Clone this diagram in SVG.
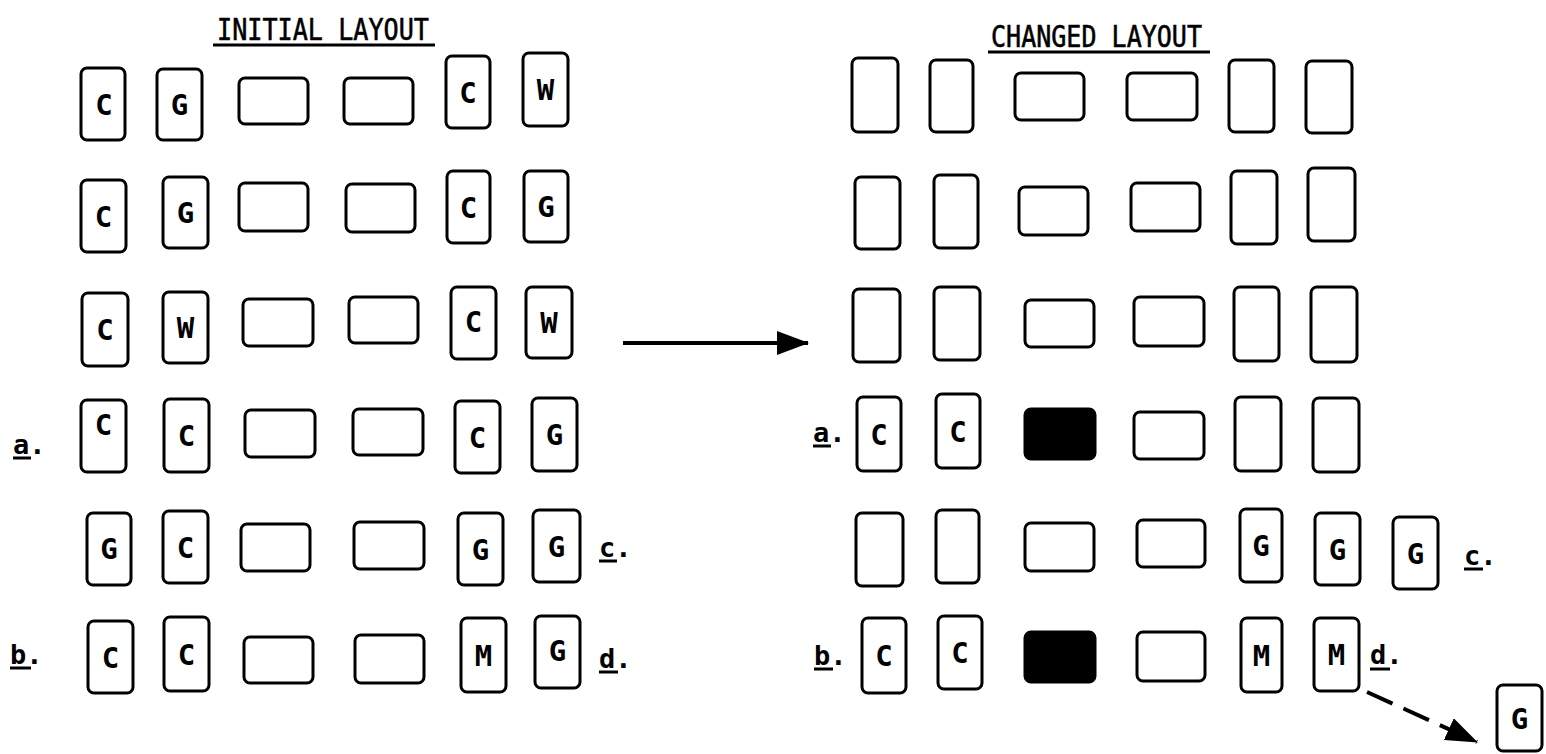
<svg xmlns="http://www.w3.org/2000/svg" width="1546" height="754" viewBox="0 0 1546 754">
<style>
.box{fill:#fff;stroke:#000;stroke-width:3}
.filled{fill:#000;stroke:#000;stroke-width:3}
.lt{font-family:"DejaVu Sans Mono","Liberation Mono",monospace;font-size:29px;font-weight:bold;text-anchor:middle;fill:#000}
.lbl{font-family:"DejaVu Sans Mono","Liberation Mono",monospace;font-size:27px;font-weight:bold;fill:#000}
.title{font-family:"DejaVu Sans Mono","Liberation Mono",monospace;font-size:31px;fill:#000;stroke:#000;stroke-width:0.6}
.ul{stroke:#000;stroke-width:3}
.conn{stroke:#000;stroke-width:4;fill:none}
</style>
<defs>
<marker id="ah" markerUnits="userSpaceOnUse" markerWidth="32" markerHeight="24" refX="31" refY="12" orient="auto">
<path d="M0,0 L32,12 L0,24 z" fill="#000"/>
</marker>
</defs>
<rect width="1546" height="754" fill="#fff"/>

<g id="titles">
<text class="title" x="217" y="40" textLength="212" lengthAdjust="spacingAndGlyphs">INITIAL LAYOUT</text>
<line class="ul" x1="213" y1="45" x2="435" y2="45"/>
<text class="title" x="991" y="47" textLength="211" lengthAdjust="spacingAndGlyphs">CHANGED LAYOUT</text>
<line class="ul" x1="988" y1="52" x2="1210" y2="52"/>
</g>

<g id="labels">
<text class="lbl" x="13" y="454">a.</text><line class="ul" x1="13" y1="458" x2="31" y2="458"/>
<text class="lbl" x="10" y="664">b.</text><line class="ul" x1="10" y1="668" x2="31" y2="668"/>
<text class="lbl" x="599" y="557">c.</text><line class="ul" x1="599" y1="561" x2="617" y2="561"/>
<text class="lbl" x="599" y="668">d.</text><line class="ul" x1="599" y1="672" x2="618" y2="672"/>
<text class="lbl" x="813" y="442">a.</text><line class="ul" x1="813" y1="446" x2="831" y2="446"/>
<text class="lbl" x="814" y="665">b.</text><line class="ul" x1="814" y1="669" x2="833" y2="669"/>
<text class="lbl" x="1464" y="565">c.</text><line class="ul" x1="1464" y1="569" x2="1483" y2="569"/>
<text class="lbl" x="1370" y="664">d.</text><line class="ul" x1="1370" y1="669" x2="1390" y2="669"/>
</g>

<!-- INITIAL LAYOUT -->
<g id="L1-1"><rect class="box" x="81" y="68" width="44" height="72" rx="6"/><text class="lt" x="104" y="114.5">C</text></g>
<g id="L1-2"><rect class="box" x="157" y="69" width="45" height="71" rx="6"/><text class="lt" x="179.5" y="115">G</text></g>
<g id="L1-3"><rect class="box" x="239" y="78" width="69" height="46" rx="6"/></g>
<g id="L1-4"><rect class="box" x="344" y="78" width="69" height="46" rx="6"/></g>
<g id="L1-5"><rect class="box" x="446" y="56" width="44" height="72" rx="6"/><text class="lt" x="468" y="102.5">C</text></g>
<g id="L1-6"><rect class="box" x="523" y="53" width="45" height="73" rx="6"/><text class="lt" x="545.5" y="100">W</text></g>

<g id="L2-1"><rect class="box" x="81" y="180" width="45" height="72" rx="6"/><text class="lt" x="103.5" y="226.5">C</text></g>
<g id="L2-2"><rect class="box" x="163" y="177" width="45" height="71" rx="6"/><text class="lt" x="185.5" y="223">G</text></g>
<g id="L2-3"><rect class="box" x="239" y="183" width="69" height="48" rx="6"/></g>
<g id="L2-4"><rect class="box" x="346" y="184" width="69" height="48" rx="6"/></g>
<g id="L2-5"><rect class="box" x="447" y="171" width="43" height="72" rx="6"/><text class="lt" x="468.5" y="217.5">C</text></g>
<g id="L2-6"><rect class="box" x="524" y="171" width="44" height="71" rx="6"/><text class="lt" x="546" y="217">G</text></g>

<g id="L3-1"><rect class="box" x="82" y="293" width="46" height="73" rx="6"/><text class="lt" x="105" y="340">C</text></g>
<g id="L3-2"><rect class="box" x="163" y="292" width="45" height="71" rx="6"/><text class="lt" x="185.5" y="338">W</text></g>
<g id="L3-3"><rect class="box" x="243" y="299" width="70" height="47" rx="6"/></g>
<g id="L3-4"><rect class="box" x="349" y="297" width="69" height="46" rx="6"/></g>
<g id="L3-5"><rect class="box" x="451" y="287" width="45" height="72" rx="6"/><text class="lt" x="473.5" y="331.5">C</text></g>
<g id="L3-6"><rect class="box" x="526" y="287" width="46" height="71" rx="6"/><text class="lt" x="549" y="333">W</text></g>

<g id="L4-1"><rect class="box" x="81" y="400" width="45" height="72" rx="6"/><text class="lt" x="103.5" y="434.5">C</text></g>
<g id="L4-2"><rect class="box" x="164" y="399" width="45" height="73" rx="6"/><text class="lt" x="186.5" y="446">C</text></g>
<g id="L4-3"><rect class="box" x="245" y="410" width="70" height="47" rx="6"/></g>
<g id="L4-4"><rect class="box" x="353" y="409" width="70" height="46" rx="6"/></g>
<g id="L4-5"><rect class="box" x="455" y="401" width="45" height="72" rx="6"/><text class="lt" x="477.5" y="447.5">C</text></g>
<g id="L4-6"><rect class="box" x="532" y="398" width="45" height="73" rx="6"/><text class="lt" x="554.5" y="445">G</text></g>

<g id="L5-1"><rect class="box" x="87" y="513" width="44" height="72" rx="6"/><text class="lt" x="109" y="558.5">G</text></g>
<g id="L5-2"><rect class="box" x="163" y="511" width="45" height="72" rx="6"/><text class="lt" x="185.5" y="557.5">C</text></g>
<g id="L5-3"><rect class="box" x="241" y="524" width="69" height="47" rx="6"/></g>
<g id="L5-4"><rect class="box" x="354" y="522" width="70" height="47" rx="6"/></g>
<g id="L5-5"><rect class="box" x="458" y="513" width="45" height="72" rx="6"/><text class="lt" x="480.5" y="559.5">G</text></g>
<g id="L5-6"><rect class="box" x="533" y="510" width="47" height="72" rx="6"/><text class="lt" x="556.5" y="556.5">G</text></g>

<g id="L6-1"><rect class="box" x="88" y="621" width="45" height="72" rx="6"/><text class="lt" x="110.5" y="667.5">C</text></g>
<g id="L6-2"><rect class="box" x="164" y="617" width="45" height="74" rx="6"/><text class="lt" x="186.5" y="664.5">C</text></g>
<g id="L6-3"><rect class="box" x="244" y="637" width="69" height="46" rx="6"/></g>
<g id="L6-4"><rect class="box" x="355" y="635" width="69" height="48" rx="6"/></g>
<g id="L6-5"><rect class="box" x="461" y="618" width="45" height="74" rx="6"/><text class="lt" x="483.5" y="665.5">M</text></g>
<g id="L6-6"><rect class="box" x="535" y="616" width="45" height="72" rx="6"/><text class="lt" x="557.5" y="660.5">G</text></g>

<!-- CHANGED LAYOUT -->
<g id="R1-1"><rect class="box" x="852" y="58" width="46" height="74" rx="6"/></g>
<g id="R1-2"><rect class="box" x="930" y="60" width="43" height="72" rx="6"/></g>
<g id="R1-3"><rect class="box" x="1015" y="73" width="69" height="47" rx="6"/></g>
<g id="R1-4"><rect class="box" x="1127" y="73" width="70" height="47" rx="6"/></g>
<g id="R1-5"><rect class="box" x="1229" y="60" width="45" height="72" rx="6"/></g>
<g id="R1-6"><rect class="box" x="1306" y="61" width="46" height="72" rx="6"/></g>

<g id="R2-1"><rect class="box" x="855" y="177" width="45" height="72" rx="6"/></g>
<g id="R2-2"><rect class="box" x="934" y="175" width="44" height="73" rx="6"/></g>
<g id="R2-3"><rect class="box" x="1019" y="187" width="69" height="48" rx="6"/></g>
<g id="R2-4"><rect class="box" x="1131" y="183" width="69" height="48" rx="6"/></g>
<g id="R2-5"><rect class="box" x="1231" y="171" width="46" height="73" rx="6"/></g>
<g id="R2-6"><rect class="box" x="1308" y="168" width="47" height="73" rx="6"/></g>

<g id="R3-1"><rect class="box" x="853" y="289" width="47" height="73" rx="6"/></g>
<g id="R3-2"><rect class="box" x="934" y="287" width="46" height="73" rx="6"/></g>
<g id="R3-3"><rect class="box" x="1025" y="300" width="69" height="47" rx="6"/></g>
<g id="R3-4"><rect class="box" x="1134" y="297" width="70" height="49" rx="6"/></g>
<g id="R3-5"><rect class="box" x="1234" y="287" width="45" height="74" rx="6"/></g>
<g id="R3-6"><rect class="box" x="1311" y="287" width="46" height="75" rx="6"/></g>

<g id="R4-1"><rect class="box" x="857" y="397" width="44" height="74" rx="6"/><text class="lt" x="879" y="444.5">C</text></g>
<g id="R4-2"><rect class="box" x="936" y="394" width="44" height="74" rx="6"/><text class="lt" x="958" y="441.5">C</text></g>
<g id="R4-3"><rect class="filled" x="1025" y="409" width="70" height="50" rx="6"/></g>
<g id="R4-4"><rect class="box" x="1134" y="412" width="70" height="47" rx="6"/></g>
<g id="R4-5"><rect class="box" x="1235" y="397" width="46" height="74" rx="6"/></g>
<g id="R4-6"><rect class="box" x="1313" y="398" width="46" height="74" rx="6"/></g>

<g id="R5-1"><rect class="box" x="856" y="513" width="47" height="73" rx="6"/></g>
<g id="R5-2"><rect class="box" x="936" y="510" width="43" height="73" rx="6"/></g>
<g id="R5-3"><rect class="box" x="1025" y="523" width="69" height="48" rx="6"/></g>
<g id="R5-4"><rect class="box" x="1137" y="520" width="68" height="47" rx="6"/></g>
<g id="R5-5"><rect class="box" x="1240" y="509" width="42" height="73" rx="6"/><text class="lt" x="1261" y="556">G</text></g>
<g id="R5-6"><rect class="box" x="1315" y="513" width="45" height="72" rx="6"/><text class="lt" x="1337.5" y="559.5">G</text></g>
<g id="R5-7"><rect class="box" x="1393" y="517" width="45" height="72" rx="6"/><text class="lt" x="1415.5" y="563.5">G</text></g>

<g id="R6-1"><rect class="box" x="862" y="618" width="44" height="75" rx="6"/><text class="lt" x="884" y="666">C</text></g>
<g id="R6-2"><rect class="box" x="938" y="616" width="44" height="73" rx="6"/><text class="lt" x="960" y="663">C</text></g>
<g id="R6-3"><rect class="filled" x="1025" y="632" width="70" height="50" rx="6"/></g>
<g id="R6-4"><rect class="box" x="1137" y="632" width="68" height="49" rx="6"/></g>
<g id="R6-5"><rect class="box" x="1241" y="618" width="41" height="74" rx="6"/><text class="lt" x="1261.5" y="665.5">M</text></g>
<g id="R6-6"><rect class="box" x="1314" y="618" width="45" height="73" rx="6"/><text class="lt" x="1336.5" y="665">M</text></g>
<g id="R7-G"><rect class="box" x="1497" y="685" width="45" height="66" rx="6"/><text class="lt" x="1519.5" y="728.5">G</text></g>

<g id="connectors">
<line class="conn" x1="623" y1="343" x2="808" y2="343" marker-end="url(#ah)"/>
<line class="conn" x1="1367" y1="692" x2="1477" y2="742" stroke-dasharray="28 12" marker-end="url(#ah)"/>
</g>
</svg>
